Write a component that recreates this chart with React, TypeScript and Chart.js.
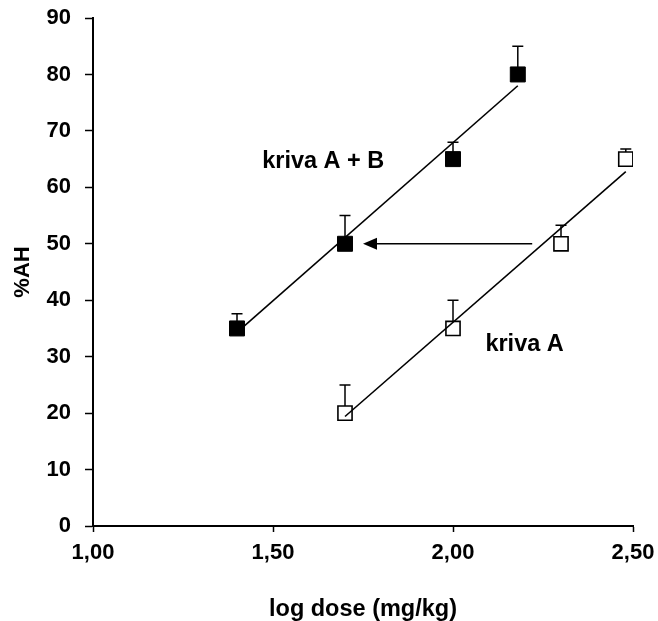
import React, { useEffect, useRef } from "react";
import { Chart, registerables } from "chart.js";

Chart.register(...registerables);

// ---- data ----
const doseAB = [1.4, 1.7, 2.0, 2.18];
const ahAB = [35, 50, 65, 80];
const errAB = [2.6, 5, 3, 5];

const doseA = [1.7, 2.0, 2.3, 2.48];
const ahA = [20, 35, 50, 65];
const errA = [5, 5, 3.3, 1.8];

const fitDoseAB = [1.4, 2.18];
const fitAhAB = [34.3, 78.0];
const fitDoseA = [1.7, 2.48];
const fitAhA = [19.4, 62.8];

const arrowStart = [2.22, 50];
const arrowEnd = [1.75, 50];

const labelABText = "kriva A + B";
const labelABPos = [1.47, 64.5];
const labelAText = "kriva A";
const labelAPos = [2.09, 32.1];

const xTitle = "log dose (mg/kg)";
const yTitle = "%AH";
const xMin = 1.0;
const xMax = 2.5;
const xStep = 0.5;
const yMin = 0;
const yMax = 90;
const yStep = 10;

const FONT = "'Liberation Sans', Arial, Helvetica, sans-serif";

const toPts = (xs: number[], ys: number[]) => xs.map((x, i) => ({ x, y: ys[i] }));

const errorBarPlugin = {
  id: "errorBars",
  beforeDatasetsDraw(chart: any) {
    const { ctx, scales } = chart;
    const xs = scales.x;
    const ys = scales.y;
    const draw = (dx: number[], dy: number[], de: number[]) => {
      ctx.save();
      ctx.strokeStyle = "#000";
      ctx.lineWidth = 1.5;
      dx.forEach((x, i) => {
        const px = xs.getPixelForValue(x);
        const py0 = ys.getPixelForValue(dy[i]);
        const py1 = ys.getPixelForValue(dy[i] + de[i]);
        ctx.beginPath();
        ctx.moveTo(px, py0);
        ctx.lineTo(px, py1);
        ctx.moveTo(px - 5.5, py1);
        ctx.lineTo(px + 5.5, py1);
        ctx.stroke();
      });
      ctx.restore();
    };
    draw(doseAB, ahAB, errAB);
    draw(doseA, ahA, errA);
  },
};

const annotationPlugin = {
  id: "annots",
  afterDatasetsDraw(chart: any) {
    const { ctx, scales } = chart;
    const xs = scales.x;
    const ys = scales.y;
    ctx.save();
    // arrow
    const x0 = xs.getPixelForValue(arrowStart[0]);
    const y0 = ys.getPixelForValue(arrowStart[1]);
    const x1 = xs.getPixelForValue(arrowEnd[0]);
    const y1 = ys.getPixelForValue(arrowEnd[1]);
    ctx.strokeStyle = "#000";
    ctx.fillStyle = "#000";
    ctx.lineWidth = 1.5;
    ctx.beginPath();
    ctx.moveTo(x0, y0);
    ctx.lineTo(x1 + 12, y1);
    ctx.stroke();
    ctx.beginPath();
    ctx.moveTo(x1, y1);
    ctx.lineTo(x1 + 14, y1 - 6);
    ctx.lineTo(x1 + 14, y1 + 6);
    ctx.closePath();
    ctx.fill();
    // labels
    ctx.font = `bold 23.5px ${FONT}`;
    ctx.textAlign = "left";
    ctx.textBaseline = "middle";
    ctx.fillText(labelABText, xs.getPixelForValue(labelABPos[0]), ys.getPixelForValue(labelABPos[1]));
    ctx.fillText(labelAText, xs.getPixelForValue(labelAPos[0]), ys.getPixelForValue(labelAPos[1]));
    ctx.restore();
  },
};

export default function App() {
  const ref = useRef<HTMLCanvasElement | null>(null);

  useEffect(() => {
    if (!ref.current) return;
    const chart = new Chart(ref.current, {
      type: "scatter",
      data: {
        datasets: [
          {
            label: "fit A + B",
            data: toPts(fitDoseAB, fitAhAB),
            showLine: true,
            borderColor: "#000",
            borderWidth: 1.6,
            pointRadius: 0,
            order: 0,
          } as any,
          {
            label: "fit A",
            data: toPts(fitDoseA, fitAhA),
            showLine: true,
            borderColor: "#000",
            borderWidth: 1.6,
            pointRadius: 0,
            order: 0,
          } as any,
          {
            label: "kriva A + B",
            data: toPts(doseAB, ahAB),
            pointStyle: "rect",
            pointRadius: 10.6,
            backgroundColor: "#000",
            borderColor: "#000",
            borderWidth: 1,
            order: 1,
          },
          {
            label: "kriva A",
            data: toPts(doseA, ahA),
            pointStyle: "rect",
            pointRadius: 10,
            backgroundColor: "#fff",
            borderColor: "#000",
            borderWidth: 1.6,
            order: 1,
          },
        ],
      },
      options: {
        animation: false,
        responsive: false,
        events: [],
        layout: { padding: { left: 0, right: 25, top: 18, bottom: 0 } },
        plugins: {
          legend: { display: false },
          tooltip: { enabled: false },
        },
        scales: {
          x: {
            type: "linear",
            min: xMin,
            max: xMax,
            ticks: {
              stepSize: xStep,
              color: "#000",
              padding: 8,
              font: { family: FONT, size: 22, weight: "bold" },
              callback: (v: any) => Number(v).toFixed(2).replace(".", ","),
            },
            grid: {
              drawOnChartArea: false,
              drawTicks: true,
              tickLength: 6,
              tickColor: "#000",
              tickWidth: 1.5,
            },
            border: { display: true, color: "#000", width: 2 },
            title: {
              display: true,
              text: xTitle,
              color: "#000",
              font: { family: FONT, size: 23.5, weight: "bold", lineHeight: 1 },
              padding: { top: 0, bottom: 0 },
            },
            afterFit: (s: any) => {
              s.height = 95;
              s.paddingLeft = 0;
              s.paddingRight = 0;
            },
          },
          y: {
            type: "linear",
            min: yMin,
            max: yMax,
            ticks: {
              stepSize: yStep,
              color: "#000",
              padding: 14,
              font: { family: FONT, size: 22, weight: "bold" },
            },
            grid: {
              drawOnChartArea: false,
              drawTicks: true,
              tickLength: 8,
              tickColor: "#000",
              tickWidth: 1.5,
            },
            border: { display: true, color: "#000", width: 2 },
            title: {
              display: true,
              text: yTitle,
              color: "#000",
              font: { family: FONT, size: 22, weight: "bold", lineHeight: 1 },
              padding: { top: 12, bottom: 0 },
            },
            afterFit: (s: any) => {
              s.width = 93;
              s.paddingTop = 0;
              s.paddingBottom = 0;
            },
          },
        },
      } as any,
      plugins: [errorBarPlugin, annotationPlugin],
    });
    return () => chart.destroy();
  }, []);

  return (
    <div style={{ position: "fixed", left: 0, top: 0, width: 658, height: 621, background: "#fff" }}>
      <canvas ref={ref} width={658} height={621} style={{ width: 658, height: 621 }} />
    </div>
  );
}
